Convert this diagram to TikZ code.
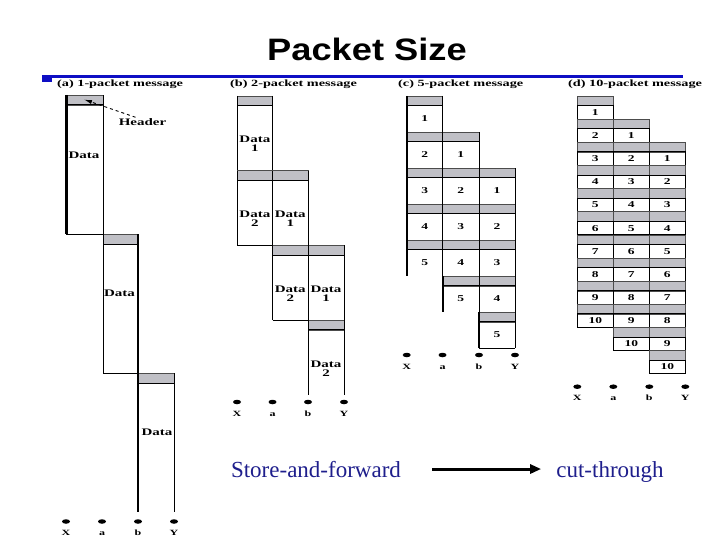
\documentclass[tikz,border=0pt]{standalone}
\usepackage{fontspec}
\usepackage{graphicx}
\setmainfont{Liberation Serif}
\newfontfamily\titlefont{Liberation Sans}
\usetikzlibrary{arrows.meta,shapes.geometric,calc}
\definecolor{hdrgray}{RGB}{192,192,198}
\definecolor{barblue}{RGB}{14,14,196}
\definecolor{txtblue}{RGB}{30,30,140}
\newcommand{\strtxt}[1]{\scalebox{1.5}[1]{#1}}
\tikzset{
  hdr/.style={fill=hdrgray, draw=black!70, line width=0.5pt},
  cell/.style={draw=black, line width=1pt},
  thickline/.style={draw=black, line width=2.2pt},
  lbl/.style={font=\fontsize{10}{10.5}\selectfont\bfseries, inner sep=0pt, align=center},
  num/.style={font=\fontsize{9}{10}\selectfont\bfseries, inner sep=0pt},
  sub/.style={font=\fontsize{9.5}{10}\selectfont\bfseries, inner sep=0pt, anchor=west},
  endpt/.style={ellipse, fill=black, minimum width=8pt, minimum height=4.5pt, inner sep=0pt},
  ename/.style={font=\fontsize{8}{9}\selectfont\bfseries, inner sep=0pt, anchor=base},
  captxt/.style={font=\fontsize{23}{26}\selectfont, text=txtblue, inner sep=0pt, anchor=base},
}
\begin{document}
\begin{tikzpicture}[x=1pt,y=-1pt]
\useasboundingbox (0,0) rectangle (720,540);
% title and bar
\node[font=\titlefont\bfseries\fontsize{31}{34}\selectfont, inner sep=0pt] (title) at (367,49) {\scalebox{1.17}[1]{Packet Size}};
\fill[barblue] (42,74.8) rectangle (683,77.6);
\fill[barblue] (42,74.8) rectangle (52,82);
% subtitles
\node[sub] (sa) at (57,84.5) {\strtxt{(a) 1-packet message}};
\node[sub] (sb) at (230,84.5) {\strtxt{(b) 2-packet message}};
\node[sub] (sc) at (398,84.5) {\strtxt{(c) 5-packet message}};
\node[sub] (sd) at (568,84.5) {\strtxt{(d) 10-packet message}};

% ---------------- panel (a)
\filldraw[hdr] (66.5,95) rectangle (103.5,105);
\draw[cell] (66.5,105) -- (103.5,105);
\draw[cell] (66.5,95) -- (66.5,234) -- (103.5,234) -- (103.5,95);
\filldraw[hdr] (103.5,234) rectangle (138,244);
\draw[cell] (103.5,244) -- (138,244);
\draw[cell] (103.5,234) -- (103.5,373) -- (138,373) -- (138,234);
\filldraw[hdr] (138,373) rectangle (174,383);
\draw[cell] (138,383) -- (174,383);
\draw[cell] (138,373) -- (138,512);
\draw[cell] (174,373) -- (174,512);
\draw[thickline] (66.5,95) -- (66.5,234);
\draw[thickline] (138,234) -- (138,512);
\node[lbl] (da1) at (84,155) {\strtxt{Data}};
\node[lbl] (da2) at (119.5,293) {\strtxt{Data}};
\node[lbl] (da3) at (157,432) {\strtxt{Data}};
\node[lbl] (hlab) at (142.5,122) {\strtxt{Header}};
\coordinate (htip) at (84,99.5);
\draw[dashed, line width=0.9pt, -{Latex[length=8pt,width=4pt]}] (hlab.north) ++(-7,-1) -- (htip);
\foreach \n/\x in {X/66,a/102,b/138,Y/174}{
  \node[endpt] (pa-\n) at (\x,521.5) {};
  \node[ename] (pal-\n) at (\x,535) {\strtxt{\n}};
}

% ---------------- panel (b)
\foreach \j/\xl/\xr in {0/237.3/272.5, 1/272.5/308, 2/308/344}{
  \foreach \k in {1,2}{
    \pgfmathsetmacro\yt{96+(\j+\k-1)*74.7}
    \pgfmathsetmacro\yh{\yt+9.7}
    \pgfmathsetmacro\yb{\yt+74.7}
    \filldraw[hdr] (\xl,\yt) rectangle (\xr,\yh);
    \draw[cell] (\xl,\yh) -- (\xr,\yh);
    \draw[cell] (\xl,\yt) -- (\xl,\yb);
    \draw[cell] (\xr,\yt) -- (\xr,\yb);
    \pgfmathtruncatemacro\closed{(\j==2 && \k==2) ? 0 : 1}
    \ifnum\closed=1 \draw[cell] (\xl,\yb) -- (\xr,\yb); \fi
    \node[lbl] (db-\j-\k) at ({(\xl+\xr)/2},{(\yh+\yb)/2+6}) {\strtxt{Data}\\[-1.5pt]\strtxt{\k}};
  }
}
\foreach \n/\x in {X/237,a/272.5,b/308,Y/344}{
  \node[endpt] (pb-\n) at (\x,402) {};
  \node[ename] (pbl-\n) at (\x,416) {\strtxt{\n}};
}

% ---------------- panel (c)
\foreach \j/\xl/\xr in {0/406.7/442.7, 1/442.7/479, 2/479/515}{
  \foreach \k in {1,...,5}{
    \pgfmathsetmacro\yt{96+(\j+\k-1)*36.05}
    \pgfmathsetmacro\yh{\yt+9.5}
    \pgfmathsetmacro\yb{\yt+36.05}
    \filldraw[hdr] (\xl,\yt) rectangle (\xr,\yh);
    \draw[cell] (\xl,\yh) -- (\xr,\yh);
    \draw[cell] (\xl,\yt) -- (\xl,\yb);
    \draw[cell] (\xr,\yt) -- (\xr,\yb);
    \pgfmathtruncatemacro\closed{(\k==5 && \j<2) ? 0 : 1}
    \ifnum\closed=1 \draw[cell] (\xl,\yb) -- (\xr,\yb); \fi
    \node[num] (nc-\j-\k) at ({(\xl+\xr)/2},{(\yh+\yb)/2}) {\strtxt{\k}};
  }
}
\draw[thickline] (406.7,96) -- (406.7,276.25);
\draw[thickline] (442.7,276.25) -- (442.7,312.3);
\draw[thickline] (479,312.3) -- (479,348.35);
\foreach \n/\x in {X/406.7,a/442.5,b/479,Y/515}{
  \node[endpt] (pc-\n) at (\x,355) {};
  \node[ename] (pcl-\n) at (\x,369) {\strtxt{\n}};
}

% ---------------- panel (d)
\foreach \j/\xl/\xr in {0/577.3/613.3, 1/613.3/649.3, 2/649.3/685.3}{
  \foreach \k in {1,...,10}{
    \pgfmathsetmacro\yt{96+(\j+\k-1)*23.15}
    \pgfmathsetmacro\yh{\yt+9.6}
    \pgfmathsetmacro\yb{\yt+23.15}
    \filldraw[hdr] (\xl,\yt) rectangle (\xr,\yh);
    \draw[cell] (\xl,\yh) rectangle (\xr,\yb);
    \node[num] (nd-\j-\k) at ({(\xl+\xr)/2},{(\yh+\yb)/2}) {\strtxt{\k}};
  }
}
\foreach \n/\x in {X/577.3,a/613.3,b/649.3,Y/685.3}{
  \node[endpt] (pd-\n) at (\x,386.7) {};
  \node[ename] (pdl-\n) at (\x,400.5) {\strtxt{\n}};
}

% ---------------- bottom caption
\node[captxt] (saf) at (316,477) {Store-and-forward};
\node[captxt] (ct) at (610,477) {cut-through};
\draw[line width=3pt, -{Triangle[length=11pt,width=9pt]}] ($(saf.east)+(31,0)$) -- ($(saf.east -| ct.west)+(-15,0)$);
\end{tikzpicture}
\end{document}
